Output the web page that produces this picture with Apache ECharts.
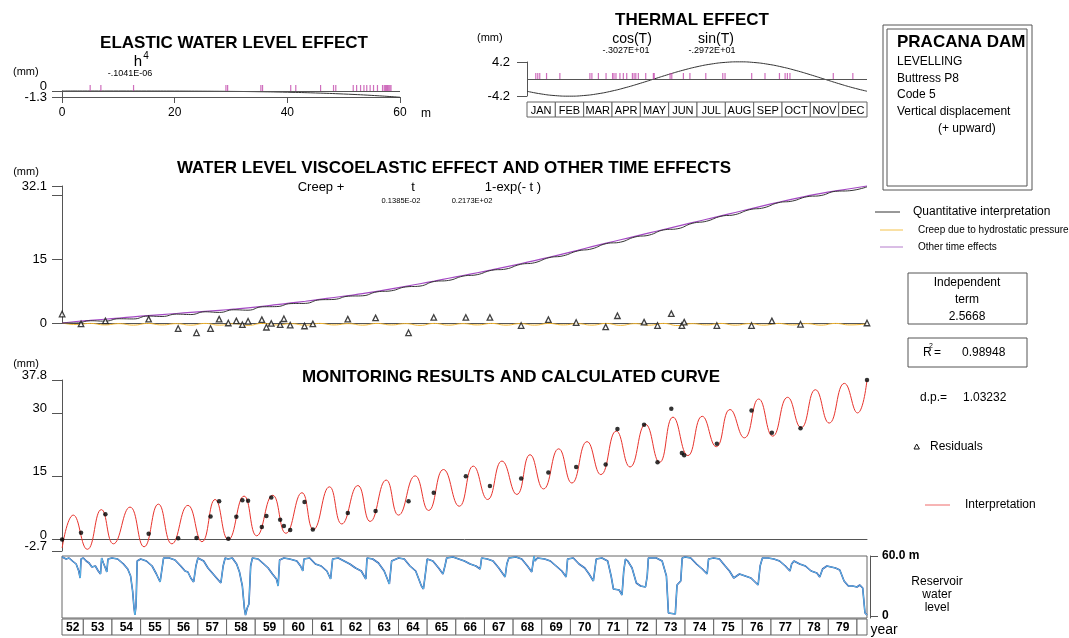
<!DOCTYPE html>
<html><head><meta charset="utf-8">
<script src="https://cdn.jsdelivr.net/npm/echarts@6/dist/echarts.min.js"></script>
<style>html,body{margin:0;padding:0;background:#fff}#c{width:1069px;height:638px}</style>
</head><body><div id="c"></div>
<script>
const FONT = '"Liberation Sans", Arial, sans-serif';

// ---------- DATA ----------
// Elastic water level effect (h in m, effect in mm)
const elasticH = [0, 5, 10, 15, 20, 25, 30, 35, 40, 45, 50, 55, 60];
const elasticV = [0, -0.0001, -0.001, -0.005, -0.017, -0.041, -0.084, -0.156, -0.266, -0.427, -0.651, -0.953, -1.349];
const obsLevels = [5.0, 6.9, 12.7, 29.1, 29.4, 35.3, 35.6, 40.6, 41.5, 45.9, 48.2, 48.6, 51.7, 52.3, 53.0, 53.6, 54.1, 54.7, 55.3, 56.0, 56.9, 57.2, 57.4, 57.6, 57.8, 58.0, 58.2, 58.4];

// Thermal effect (month position 0..12, effect mm)
const thermalM = [0, 0.5, 1, 1.5, 2, 2.5, 3, 3.5, 4, 4.5, 5, 5.5, 6, 6.5, 7, 7.5, 8, 8.5, 9, 9.5, 10, 10.5, 11, 11.5, 12];
const thermalV = [-3.027, -3.693, -4.107, -4.241, -4.088, -3.654, -2.972, -2.088, -1.060, 0.039, 1.135, 2.155, 3.027, 3.693, 4.107, 4.241, 4.088, 3.654, 2.972, 2.088, 1.060, -0.039, -1.135, -2.155, -3.027];
const obsMonths = [0.31, 0.38, 0.45, 0.69, 1.16, 2.22, 2.29, 2.52, 2.79, 3.02, 3.07, 3.14, 3.28, 3.40, 3.52, 3.72, 3.78, 3.84, 3.93, 4.19, 4.46, 4.49, 5.05, 5.11, 5.52, 5.75, 6.31, 6.91, 6.99, 7.93, 8.40, 8.91, 9.11, 9.19, 9.28, 10.81, 11.50];
const months = ['JAN', 'FEB', 'MAR', 'APR', 'MAY', 'JUN', 'JUL', 'AUG', 'SEP', 'OCT', 'NOV', 'DEC'];

// Time effects (years)
const timeT = [1952.26, 1952.75, 1953.25, 1953.75, 1954.25, 1954.75, 1955.25, 1955.75, 1956.25, 1956.75,
  1957.25, 1957.75, 1958.25, 1958.75, 1959.25, 1959.75, 1960.25, 1960.75, 1961.25, 1961.75,
  1962.25, 1962.75, 1963.25, 1963.75, 1964.25, 1964.75, 1965.25, 1965.75, 1966.25, 1966.75,
  1967.25, 1967.75, 1968.25, 1968.75, 1969.25, 1969.75, 1970.25, 1970.75, 1971.25, 1971.75,
  1972.25, 1972.75, 1973.25, 1973.75, 1974.25, 1974.75, 1975.25, 1975.75, 1976.25, 1976.75,
  1977.25, 1977.75, 1978.25, 1978.75, 1979.25, 1979.75, 1980.35];
const otherTime = [0, 0.35, 0.63, 0.88, 1.15, 1.45, 1.73, 1.98, 2.23, 2.48,
  2.73, 2.98, 3.25, 3.55, 3.9, 4.3, 4.7, 5.1, 5.53, 5.98,
  6.43, 6.88, 7.4, 8.0, 8.6, 9.2, 9.83, 10.48, 11.13, 11.78,
  12.45, 13.15, 13.88, 14.63, 15.4, 16.2, 17.03, 17.88, 18.7, 19.5,
  20.3, 21.1, 21.9, 22.7, 23.5, 24.3, 25.1, 25.9, 26.7, 27.5,
  28.28, 29.03, 29.73, 30.38, 30.95, 31.45, 32.1];
const creep = [0, -0.35, -0.1, -0.45, -0.15, -0.5, -0.1, -0.45, -0.15, -0.5,
  -0.1, -0.5, -0.15, -0.55, -0.1, -0.45, -0.15, -0.5, -0.1, -0.45,
  -0.15, -0.5, -0.1, -0.45, -0.15, -0.55, -0.1, -0.5, -0.15, -0.45,
  -0.1, -0.5, -0.15, -0.5, -0.1, -0.45, -0.15, -0.5, -0.1, -0.55,
  -0.15, -0.5, -0.1, -0.6, -0.15, -0.45, -0.1, -0.5, -0.15, -0.5,
  -0.1, -0.45, -0.15, -0.5, -0.1, -0.45, -0.2];
const quantitative = [0, 0.0, 0.53, 0.43, 1.0, 0.95, 1.63, 1.53, 2.08, 1.98,
  2.63, 2.48, 3.1, 3.0, 3.8, 3.85, 4.55, 4.6, 5.43, 5.53,
  6.28, 6.38, 7.3, 7.55, 8.45, 8.65, 9.73, 9.98, 10.98, 11.33,
  12.35, 12.65, 13.73, 14.13, 15.3, 15.75, 16.88, 17.38, 18.6, 18.95,
  20.15, 20.6, 21.8, 22.1, 23.35, 23.85, 25.0, 25.4, 26.55, 27.0,
  28.18, 28.58, 29.58, 29.88, 30.85, 31.0, 31.9];

// Observations
const obsT = [1952.26, 1952.92, 1953.77, 1955.28, 1956.31, 1956.95, 1957.44, 1957.74, 1958.06, 1958.34,
  1958.55, 1958.75, 1959.23, 1959.39, 1959.56, 1959.87, 1960.00, 1960.22, 1960.72, 1961.01,
  1962.23, 1963.20, 1964.35, 1965.23, 1966.35, 1967.19, 1968.28, 1969.23, 1970.20, 1971.23,
  1971.64, 1972.57, 1973.04, 1973.52, 1973.89, 1973.97, 1975.11, 1976.32, 1977.03, 1978.03, 1980.35];
const obsDisp = [0.0, 1.6, 6.0, 1.4, 0.3, 0.4, 5.5, 9.1, 0.2, 5.4,
  9.3, 9.2, 3.0, 5.6, 10.0, 4.7, 3.2, 2.3, 8.9, 2.4,
  6.3, 6.8, 9.1, 11.1, 15.0, 12.7, 14.5, 15.9, 17.2, 17.8,
  26.2, 27.2, 18.3, 31.0, 20.5, 20.0, 22.7, 30.6, 25.3, 26.4, 37.8];
const residuals = [2.1, -0.2, 0.5, 0.9, -1.3, -2.3, -1.3, 0.9, 0.0, 0.5,
  -0.4, 0.4, 0.8, -1.0, -0.1, -0.4, 1.0, -0.5, -0.7, -0.2,
  0.9, 1.2, -2.3, 1.3, 1.3, 1.3, -0.6, 0.8, 0.1, -0.9,
  1.7, 0.2, -0.6, 2.2, -0.6, 0.2, -0.6, -0.6, 0.5, -0.3, 0.0];

// Calculated curve (turning points)
const calcT = [1952.26, 1952.65, 1953.14, 1953.63, 1954.05, 1954.63, 1955.12, 1955.62, 1956.09, 1956.65,
  1957.14, 1957.60, 1958.06, 1958.61, 1959.05, 1959.61, 1960.07, 1960.63, 1961.03, 1961.59,
  1962.02, 1962.58, 1963.01, 1963.57, 1964.00, 1964.58, 1965.05, 1965.57, 1966.12, 1966.61,
  1967.11, 1967.61, 1968.13, 1968.59, 1969.06, 1969.59, 1970.05, 1970.58, 1971.06, 1971.60,
  1972.08, 1972.62, 1973.11, 1973.58, 1974.10, 1974.60, 1975.09, 1975.57, 1976.07, 1976.57,
  1977.06, 1977.58, 1978.05, 1978.55, 1979.03, 1979.56, 1980.02, 1980.35];
const calcV = [-2.0, 5.8, -2.3, 7.1, -1.0, 7.7, -1.7, 8.4, -1.0, 8.1,
  -0.5, 9.5, 0.0, 10.3, 0.9, 10.5, 1.5, 11.1, 2.4, 12.5,
  3.7, 12.8, 4.3, 14.1, 5.8, 15.1, 6.9, 16.6, 7.9, 17.4,
  9.5, 18.6, 10.7, 20.1, 12.0, 21.5, 13.4, 23.2, 15.4, 25.7,
  17.2, 27.3, 18.3, 29.0, 19.9, 29.2, 22.0, 30.8, 24.1, 33.3,
  24.5, 33.7, 26.5, 35.5, 27.6, 37.0, 30.0, 37.8];

// Reservoir water level (m)
const wlT = [1952.26,1952.40,1952.50,1952.62,1952.75,1952.84,1952.89,1952.92,1953.00,1953.10,1953.20,1953.30,1953.42,1953.52,1953.60,1953.64,1953.70,1953.77,1953.82,1953.86,
  1954.00,1954.20,1954.40,1954.55,1954.65,1954.72,1954.77,1954.80,1954.84,1954.88,1955.00,1955.20,1955.40,1955.55,1955.68,1955.74,1955.80,1956.00,1956.20,1956.40,
  1956.55,1956.65,1956.75,1956.85,1956.93,1957.00,1957.20,1957.35,1957.50,1957.65,1957.80,1957.88,1957.95,1958.05,1958.20,1958.35,1958.45,1958.55,1958.62,1958.66,
  1958.72,1958.78,1958.84,1958.90,1959.10,1959.30,1959.45,1959.60,1959.74,1959.80,1959.85,1960.00,1960.20,1960.45,1960.58,1960.66,1960.70,1960.90,1961.10,1961.30,
  1961.50,1961.63,1961.70,1961.90,1962.10,1962.30,1962.50,1962.70,1962.86,1962.90,1963.10,1963.30,1963.50,1963.68,1963.76,1964.00,1964.20,1964.40,1964.60,1964.80,
  1964.87,1964.95,1965.00,1965.20,1965.40,1965.55,1965.62,1965.68,1965.90,1966.10,1966.30,1966.50,1966.70,1966.85,1966.90,1967.10,1967.30,1967.50,1967.72,1967.78,
  1967.85,1968.10,1968.30,1968.50,1968.65,1968.70,1968.73,1968.76,1968.85,1969.10,1969.30,1969.50,1969.70,1969.85,1969.90,1970.10,1970.30,1970.50,1970.65,1970.80,
  1970.90,1971.10,1971.30,1971.42,1971.50,1971.70,1971.80,1971.86,1971.92,1972.00,1972.15,1972.30,1972.45,1972.62,1972.68,1972.72,1973.00,1973.20,1973.35,1973.42,
  1973.66,1973.72,1973.85,1973.90,1974.00,1974.20,1974.40,1974.60,1974.77,1974.82,1975.00,1975.20,1975.40,1975.55,1975.70,1975.90,1976.10,1976.30,1976.55,1976.62,
  1976.70,1976.90,1977.10,1977.30,1977.50,1977.66,1977.72,1977.80,1978.00,1978.20,1978.40,1978.60,1978.70,1978.80,1978.95,1979.10,1979.25,1979.40,1979.55,1979.70,
  1979.85,1980.00,1980.10,1980.20,1980.28,1980.35];
const wlH = [59,57,58,55,52,45,38,57,58,55,53,49,50,45,42,58,53,48,44,57,
  58,57,52,47,40,25,8,1,10,55,57,55,50,42,34,32,58,58,56,50,
  45,44,38,34,50,58,55,48,43,38,33,50,58,57,58,52,44,30,8,1,
  8,12,50,58,57,52,48,42,37,30,56,58,57,55,50,45,57,58,52,50,
  45,37,57,58,55,52,48,45,37,58,57,53,45,32,55,58,57,50,45,30,
  27,45,57,55,48,42,50,58,59,57,55,52,50,47,58,57,55,48,39,52,
  58,59,57,50,44,42,60,55,58,57,55,50,45,39,57,58,52,48,42,35,
  57,58,55,40,27,26,21,45,57,55,48,33,30,29,40,58,58,55,40,3,
  2,31,35,58,59,58,52,47,42,57,58,57,50,45,38,42,40,38,31,50,
  58,58,57,55,50,45,52,55,52,50,45,43,39,47,50,49,48,46,35,30,
  30,29,31,28,3,1];

const yearLabels = ['52','53','54','55','56','57','58','59','60','61','62','63','64','65','66','67','68','69','70','71','72','73','74','75','76','77','78','79',''];
const firstYear = 1952;
const T0 = 1952.256, T1 = 1980.35;

// ---------- CHART ----------
const zip = (a, b) => a.map((v, i) => [v, b[i]]);
const AX = '#555';
const chart = echarts.init(document.getElementById('c'));

function yAxisCfg(grid, min, max, tickVals, labelVals, lab) {
  return {
    gridIndex: grid, type: 'value', min, max, position: 'left',
    axisLine: { show: true, lineStyle: { color: AX, width: 1 } },
    axisTick: { show: true, length: 10, customValues: tickVals, lineStyle: { color: AX } },
    axisLabel: Object.assign({ customValues: labelVals, fontSize: 13, color: '#000', margin: 15, fontFamily: FONT,
      hideOverlap: false, showMinLabel: true, showMaxLabel: true }, lab || {}),
    splitLine: { show: false }
  };
}
function labelOnly(grid, min, max, vals, lab) {
  return {
    gridIndex: grid, type: 'value', min, max, position: 'left', offset: 0,
    axisLine: { show: false }, axisTick: { show: false }, splitLine: { show: false },
    axisLabel: Object.assign({ customValues: vals, fontSize: 13, color: '#000', margin: 15, fontFamily: FONT,
      hideOverlap: false, showMinLabel: true, showMaxLabel: true }, lab || {})
  };
}
function hiddenX(grid, min, max) { return { gridIndex: grid, type: 'value', min, max, show: false }; }

const boxRender = (labels, font) => (p, api) => {
  const a = api.coord([api.value(0), 1]);
  const b = api.coord([api.value(1), 0]);
  return { type: 'group', children: [
    { type: 'rect', shape: { x: a[0], y: a[1], width: b[0] - a[0], height: b[1] - a[1] }, style: { fill: '#fff', stroke: '#666', lineWidth: 1 } },
    { type: 'text', x: (a[0] + b[0]) / 2, y: (a[1] + b[1]) / 2 + 1, style: { text: labels[p.dataIndex], align: 'center', verticalAlign: 'middle', font: font, fill: '#000' } }
  ] };
};

function T(text, x, y, size, opt) {
  opt = opt || {};
  return { type: 'text', x, y, silent: true, style: {
    text, font: (opt.bold ? 'bold ' : '') + size + 'px ' + FONT, fill: opt.color || '#000',
    align: opt.align || 'left', verticalAlign: 'middle' } };
}
function R(x, y, w, h) { return { type: 'rect', silent: true, shape: { x, y, width: w, height: h }, style: { fill: 'none', stroke: '#555', lineWidth: 1 } }; }
function L(x1, y1, x2, y2, c, w) { return { type: 'line', silent: true, shape: { x1, y1, x2, y2 }, style: { stroke: c, lineWidth: w || 1 } }; }

const zeroLine = { silent: true, symbol: 'none', label: { show: false }, lineStyle: { color: '#555', type: 'solid', width: 1 }, data: [{ yAxis: 0 }] };
const upLab = { verticalAlign: 'bottom', lineHeight: 9 };

const option = {
  animation: false,
  backgroundColor: '#fff',
  textStyle: { fontFamily: FONT },
  grid: [
    { left: 62, top: 91, width: 338, height: 6 },
    { left: 527, top: 62, width: 340, height: 34 },
    { left: 527, top: 102, width: 340, height: 15 },
    { left: 62, top: 186, width: 805, height: 137 },
    { left: 62, top: 380, width: 805, height: 171 },
    { left: 62, top: 556, width: 805, height: 62, show: true, borderColor: '#666', borderWidth: 1, backgroundColor: 'transparent' },
    { left: 62, top: 619, width: 805, height: 16 }
  ].map(g => Object.assign({ containLabel: false, outerBoundsMode: 'none' }, g)),
  xAxis: [
    { gridIndex: 0, type: 'value', min: 0, max: 60, interval: 20,
      axisLine: { show: true, onZero: false, lineStyle: { color: AX } },
      axisTick: { show: true, length: 6, lineStyle: { color: AX } },
      axisLabel: { fontSize: 12, color: '#000', margin: 10 }, splitLine: { show: false } },
    hiddenX(1, 0, 12),
    hiddenX(2, 0, 12),
    { gridIndex: 3, type: 'value', min: T0, max: T1, axisLine: { show: true, onZero: true, lineStyle: { color: AX } }, axisTick: { show: false }, axisLabel: { show: false }, splitLine: { show: false } },
    { gridIndex: 4, type: 'value', min: T0, max: T1, axisLine: { show: true, onZero: true, lineStyle: { color: AX } }, axisTick: { show: false }, axisLabel: { show: false }, splitLine: { show: false } },
    hiddenX(5, T0, T1),
    hiddenX(6, T0, T1)
  ],
  yAxis: [
    // 0 elastic: axis + "-1.3"
    yAxisCfg(0, -1.3, 0, [-1.3, 0], [-1.3]),
    // 1 thermal
    yAxisCfg(1, -4.2, 4.2, [-4.2, 4.2], [-4.2, 4.2], { margin: 17, padding: [0, 0, 5, 0] }),
    // 2 months
    { gridIndex: 2, type: 'value', min: 0, max: 1, show: false },
    // 3 time effects
    yAxisCfg(3, 0, 32.1, [0, 15, 30, 32.1], [0, 15, 32.1], { padding: [0, 0, 4, 0] }),
    // 4 monitoring (all but -2.7)
    yAxisCfg(4, -2.7, 37.8, [-2.7, 0, 15, 30, 37.8], [0, 15, 30, 37.8], upLab),
    // 5 water
    { gridIndex: 5, type: 'value', min: -2, max: 60, show: false },
    // 6 water right bracket
    { gridIndex: 5, type: 'value', min: -2, max: 60, position: 'right', offset: 3,
      axisLine: { show: true, lineStyle: { color: AX } },
      axisTick: { show: true, length: 8, customValues: [0, 60], lineStyle: { color: AX } },
      axisLabel: { customValues: [0, 60], margin: 12, fontSize: 12, fontWeight: 'bold', color: '#000', hideOverlap: false, formatter: v => (v === 60 ? '60.0 m' : '0') },
      splitLine: { show: false } },
    // 7 years
    { gridIndex: 6, type: 'value', min: 0, max: 1, show: false },
    // 8 elastic "0" label
    labelOnly(0, -1.3, 0, [0], upLab),
    // 9 monitoring "-2.7" label
    labelOnly(4, -2.7, 37.8, [-2.7], upLab)
  ],
  series: [
    // elastic
    { type: 'line', xAxisIndex: 0, yAxisIndex: 0, data: zip(elasticH, elasticV), smooth: true, symbol: 'none', clip: false,
      lineStyle: { color: '#333', width: 1 }, markLine: zeroLine, z: 3 },
    { type: 'scatter', xAxisIndex: 0, yAxisIndex: 0, data: obsLevels.map(h => [h, 0]), symbol: 'rect', symbolSize: [1.2, 6], symbolOffset: [0, -3],
      itemStyle: { color: '#c34aad' }, clip: false, z: 4 },
    // thermal
    { type: 'line', xAxisIndex: 1, yAxisIndex: 1, data: zip(thermalM, thermalV), smooth: true, symbol: 'none', clip: false,
      lineStyle: { color: '#333', width: 1 }, markLine: zeroLine, z: 3 },
    { type: 'scatter', xAxisIndex: 1, yAxisIndex: 1, data: obsMonths.map(m => [m, 0]), symbol: 'rect', symbolSize: [1.2, 6], symbolOffset: [0, -3],
      itemStyle: { color: '#c34aad' }, clip: false, z: 4 },
    { type: 'custom', xAxisIndex: 2, yAxisIndex: 2, data: months.map((m, i) => [i, i + 1]), renderItem: boxRender(months, '11px ' + FONT), clip: false },
    // time effects
    { type: 'line', xAxisIndex: 3, yAxisIndex: 3, data: zip(timeT, creep), smooth: true, symbol: 'none', clip: false, lineStyle: { color: '#f4b630', width: 1 }, z: 2 },
    { type: 'line', xAxisIndex: 3, yAxisIndex: 3, data: zip(timeT, otherTime), smooth: true, symbol: 'none', clip: false, lineStyle: { color: '#a448c4', width: 1.2 }, z: 3 },
    { type: 'line', xAxisIndex: 3, yAxisIndex: 3, data: zip(timeT, quantitative), smooth: true, symbol: 'none', clip: false, lineStyle: { color: '#333', width: 1 }, z: 4 },
    { type: 'scatter', xAxisIndex: 3, yAxisIndex: 3, data: zip(obsT, residuals), symbol: 'triangle', symbolSize: 5.5, clip: false,
      itemStyle: { color: '#fff', borderColor: '#111', borderWidth: 1.3 }, z: 5 },
    // monitoring
    { type: 'line', xAxisIndex: 4, yAxisIndex: 4, data: zip(calcT, calcV), smooth: 0.5, symbol: 'none', clip: false, lineStyle: { color: '#e8332c', width: 1 }, z: 3 },
    { type: 'scatter', xAxisIndex: 4, yAxisIndex: 4, data: zip(obsT, obsDisp), symbol: 'circle', symbolSize: 4.5, clip: false, itemStyle: { color: '#000' }, z: 4 },
    // water level
    { type: 'line', xAxisIndex: 5, yAxisIndex: 5, data: zip(wlT, wlH), symbol: 'none', lineStyle: { color: '#34489e', width: 1.6 }, z: 2 },
    { type: 'line', xAxisIndex: 5, yAxisIndex: 5, data: zip(wlT, wlH), symbol: 'none', lineStyle: { color: '#5cbdea', width: 1 }, z: 3 },
    // years
    { type: 'custom', xAxisIndex: 6, yAxisIndex: 7, clip: false,
      data: yearLabels.map((l, i) => [Math.max(firstYear + i, T0), Math.min(firstYear + i + 1, T1)]),
      renderItem: boxRender(yearLabels, 'bold 12px ' + FONT) }
  ],
  graphic: [
    // elastic
    T('ELASTIC WATER LEVEL EFFECT', 234, 43, 17, { bold: true, align: 'center' }),
    T('(mm)', 13, 72, 11),
    T('h', 138, 62, 15, { align: 'center' }),
    T('4', 146, 56, 10, { align: 'center' }),
    T('-.1041E-06', 130, 74, 9, { align: 'center' }),
    T('m', 426, 114, 12, { align: 'center' }),
    // thermal
    T('THERMAL EFFECT', 692, 20, 17, { bold: true, align: 'center' }),
    T('(mm)', 477, 38, 11),
    T('cos(T)', 632, 39, 14, { align: 'center' }),
    T('-.3027E+01', 626, 51, 9, { align: 'center' }),
    T('sin(T)', 716, 39, 14, { align: 'center' }),
    T('-.2972E+01', 712, 51, 9, { align: 'center' }),
    // title box
    R(883, 25, 149, 165), R(887, 29, 140, 157),
    T('PRACANA DAM', 897, 42, 17, { bold: true }),
    T('LEVELLING', 897, 62, 12),
    T('Buttress P8', 897, 78.5, 12),
    T('Code 5', 897, 95, 12),
    T('Vertical displacement', 897, 112, 12),
    T('(+ upward)', 938, 129, 12),
    // time effects panel
    T('WATER LEVEL VISCOELASTIC EFFECT AND OTHER TIME EFFECTS', 454, 168, 17, { bold: true, align: 'center' }),
    T('(mm)', 26, 172, 11, { align: 'center' }),
    T('Creep +', 321, 187, 13, { align: 'center' }),
    T('t', 413, 187, 13, { align: 'center' }),
    T('1-exp(- t )', 513, 187, 13, { align: 'center' }),
    T('0.1385E-02', 401, 201, 7.5, { align: 'center' }),
    T('0.2173E+02', 472, 201, 7.5, { align: 'center' }),
    // legend
    L(875, 212, 900, 212, '#333', 1),
    T('Quantitative interpretation', 913, 212, 12),
    L(880, 230, 903, 230, '#f4c24a', 1),
    T('Creep due to hydrostatic pressure', 918, 230, 10),
    L(880, 247, 903, 247, '#b57ccc', 1),
    T('Other time effects', 918, 247, 10),
    R(908, 273, 119, 51),
    T('Independent', 967, 283, 12, { align: 'center' }),
    T('term', 967, 300, 12, { align: 'center' }),
    T('2.5668', 967, 317, 12, { align: 'center' }),
    R(908, 338, 119, 29),
    T('R', 923, 353, 12),
    T('2', 929, 346, 7),
    T('=', 934, 353, 12),
    T('0.98948', 962, 353, 12),
    T('d.p.=', 920, 398, 12),
    T('1.03232', 963, 398, 12),
    { type: 'polygon', silent: true, shape: { points: [[916.7, 444], [914, 449], [919.4, 449]] }, style: { fill: '#fff', stroke: '#111', lineWidth: 1 } },
    T('Residuals', 930, 447, 12),
    L(925, 505, 950, 505, '#ef6a6a', 1),
    T('Interpretation', 965, 505, 12),
    // monitoring
    T('MONITORING RESULTS AND CALCULATED CURVE', 511, 377, 17, { bold: true, align: 'center' }),
    T('(mm)', 26, 364, 11, { align: 'center' }),
    // reservoir
    T('Reservoir', 937, 582, 12, { align: 'center' }),
    T('water', 937, 595, 12, { align: 'center' }),
    T('level', 937, 608, 12, { align: 'center' }),
    T('year', 884, 630, 14, { align: 'center' })
  ]
};
chart.setOption(option);
</script>
</body></html>
